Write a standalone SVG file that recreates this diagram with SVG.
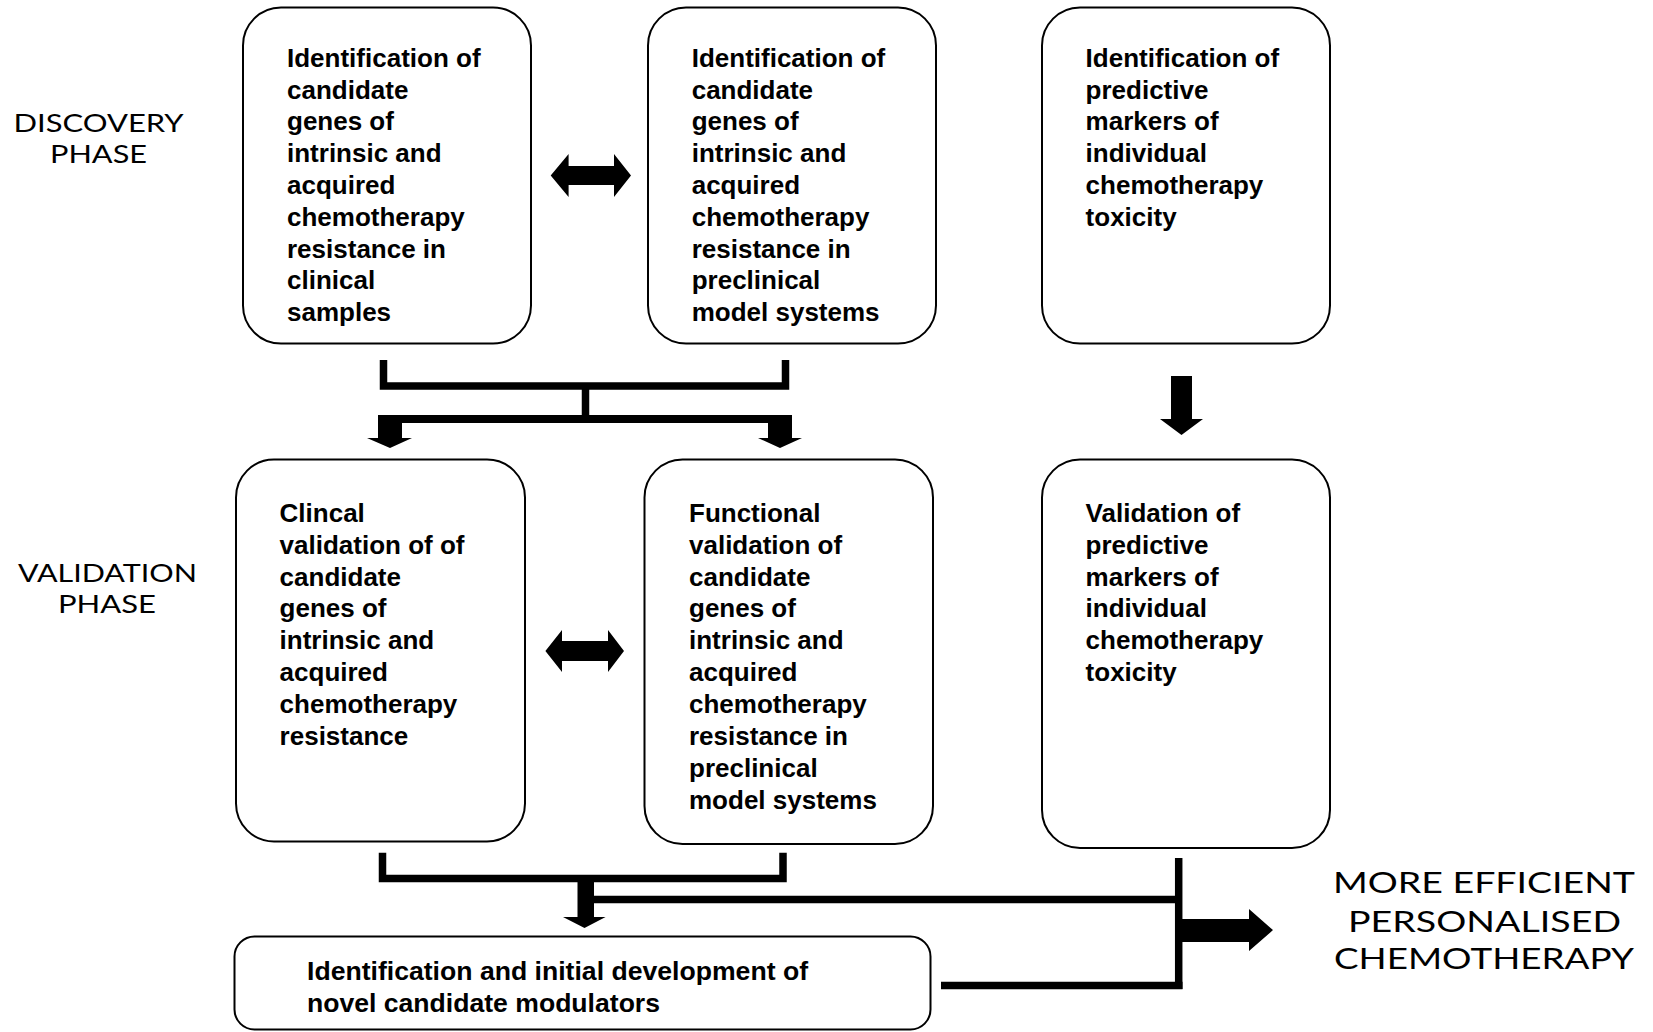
<svg xmlns="http://www.w3.org/2000/svg" width="1653" height="1032" viewBox="0 0 1653 1032">
<style>
.box{fill:#fff;stroke:#000;stroke-width:2}
.t{font-family:"Liberation Sans",Arial,sans-serif;font-weight:bold;font-size:26px;fill:#000}
.ph{font-family:Lato,"Liberation Sans",sans-serif;font-weight:normal;font-size:25px;fill:#000}
.big{font-size:29px}
.ln{fill:none;stroke:#000;stroke-width:7.5;stroke-linejoin:miter}
.ar{fill:#000}
</style>
<rect width="1653" height="1032" fill="#fff"/>
<g id="labels">
<text class="ph" x="13.6" y="132" textLength="170" lengthAdjust="spacingAndGlyphs">DISCOVERY</text>
<text class="ph" x="50" y="163" textLength="97" lengthAdjust="spacingAndGlyphs">PHASE</text>
<text class="ph" x="18" y="582" textLength="179" lengthAdjust="spacingAndGlyphs">VALIDATION</text>
<text class="ph" x="58" y="613" textLength="98" lengthAdjust="spacingAndGlyphs">PHASE</text>
<text class="ph big" x="1333" y="893" textLength="302" lengthAdjust="spacingAndGlyphs">MORE EFFICIENT</text>
<text class="ph big" x="1348" y="932" textLength="273" lengthAdjust="spacingAndGlyphs">PERSONALISED</text>
<text class="ph big" x="1334" y="969" textLength="300" lengthAdjust="spacingAndGlyphs">CHEMOTHERAPY</text>
</g>
<g id="node-disc-clinical">
<rect class="box" x="243" y="7.5" width="288" height="336" rx="38"/>
<text class="t" x="287" y="66.7"><tspan x="287">Identification of</tspan><tspan x="287" dy="31.8">candidate</tspan><tspan x="287" dy="31.8">genes of</tspan><tspan x="287" dy="31.8">intrinsic and</tspan><tspan x="287" dy="31.8">acquired</tspan><tspan x="287" dy="31.8">chemotherapy</tspan><tspan x="287" dy="31.8">resistance in</tspan><tspan x="287" dy="31.8">clinical</tspan><tspan x="287" dy="31.8">samples</tspan></text>
</g>
<g id="node-disc-preclinical">
<rect class="box" x="648" y="7.5" width="288" height="336" rx="38"/>
<text class="t" x="691.7" y="66.7"><tspan x="691.7">Identification of</tspan><tspan x="691.7" dy="31.8">candidate</tspan><tspan x="691.7" dy="31.8">genes of</tspan><tspan x="691.7" dy="31.8">intrinsic and</tspan><tspan x="691.7" dy="31.8">acquired</tspan><tspan x="691.7" dy="31.8">chemotherapy</tspan><tspan x="691.7" dy="31.8">resistance in</tspan><tspan x="691.7" dy="31.8">preclinical</tspan><tspan x="691.7" dy="31.8">model systems</tspan></text>
</g>
<g id="node-disc-toxicity">
<rect class="box" x="1042" y="7.5" width="288" height="336" rx="38"/>
<text class="t" x="1085.6" y="66.7"><tspan x="1085.6">Identification of</tspan><tspan x="1085.6" dy="31.8">predictive</tspan><tspan x="1085.6" dy="31.8">markers of</tspan><tspan x="1085.6" dy="31.8">individual</tspan><tspan x="1085.6" dy="31.8">chemotherapy</tspan><tspan x="1085.6" dy="31.8">toxicity</tspan></text>
</g>
<g id="node-val-clinical">
<rect class="box" x="236" y="459.5" width="289" height="382" rx="38"/>
<text class="t" x="279.6" y="521.7"><tspan x="279.6">Clincal</tspan><tspan x="279.6" dy="31.9">validation of of</tspan><tspan x="279.6" dy="31.9">candidate</tspan><tspan x="279.6" dy="31.9">genes of</tspan><tspan x="279.6" dy="31.9">intrinsic and</tspan><tspan x="279.6" dy="31.9">acquired</tspan><tspan x="279.6" dy="31.9">chemotherapy</tspan><tspan x="279.6" dy="31.9">resistance</tspan></text>
</g>
<g id="node-val-functional">
<rect class="box" x="644.5" y="459.5" width="288.5" height="384.5" rx="38"/>
<text class="t" x="689" y="521.7"><tspan x="689">Functional</tspan><tspan x="689" dy="31.9">validation of</tspan><tspan x="689" dy="31.9">candidate</tspan><tspan x="689" dy="31.9">genes of</tspan><tspan x="689" dy="31.9">intrinsic and</tspan><tspan x="689" dy="31.9">acquired</tspan><tspan x="689" dy="31.9">chemotherapy</tspan><tspan x="689" dy="31.9">resistance in</tspan><tspan x="689" dy="31.9">preclinical</tspan><tspan x="689" dy="31.9">model systems</tspan></text>
</g>
<g id="node-val-toxicity">
<rect class="box" x="1042" y="459.5" width="288" height="388.5" rx="38"/>
<text class="t" x="1085.6" y="521.7"><tspan x="1085.6">Validation of</tspan><tspan x="1085.6" dy="31.9">predictive</tspan><tspan x="1085.6" dy="31.9">markers of</tspan><tspan x="1085.6" dy="31.9">individual</tspan><tspan x="1085.6" dy="31.9">chemotherapy</tspan><tspan x="1085.6" dy="31.9">toxicity</tspan></text>
</g>
<g id="node-modulators">
<rect class="box" x="234.5" y="936.5" width="696" height="93" rx="20"/>
<text class="t" x="307" y="980" textLength="501" lengthAdjust="spacingAndGlyphs">Identification and initial development of</text>
<text class="t" x="307" y="1011.8" textLength="353" lengthAdjust="spacingAndGlyphs">novel candidate modulators</text>
</g>
<g id="connectors">
<path class="ar" d="M550.7,175.5 L568.6,154 V166 H614 V154 L631,175.5 L614,197 V185 H568.6 V197 Z"/>
<path class="ar" d="M545.4,651 L562,630 V641 H608 V630 L624,651 L608,672 V661 H562 V672 Z"/>
<path class="ln" d="M383.5,360 V386 H785.5 V360"/>
<path class="ln" d="M585.5,386 V419"/>
<path class="ar" d="M378,415 H792 V438 H802 L780,448 L758,438 H768 V423 H402 V438 H412 L390,448 L367,438 H378 Z"/>
<path class="ar" d="M1171,376 H1192 V419 H1203 L1181.5,435 L1160,419 H1171 Z"/>
<path class="ln" d="M382.5,852.7 V878.5 H783 V852.7"/>
<path class="ar" d="M577.5,878 H594 V917 H605.6 L584.5,928 L563,917 H577.5 Z"/>
<path class="ln" d="M594,899.5 H1178.7"/>
<path class="ln" d="M1178.7,858 V989"/>
<path class="ln" d="M941,985.5 H1182.5"/>
<path class="ar" d="M1182,919 H1249 V909 L1273,930 L1249,951 V942 H1182 Z"/>
</g>
</svg>
